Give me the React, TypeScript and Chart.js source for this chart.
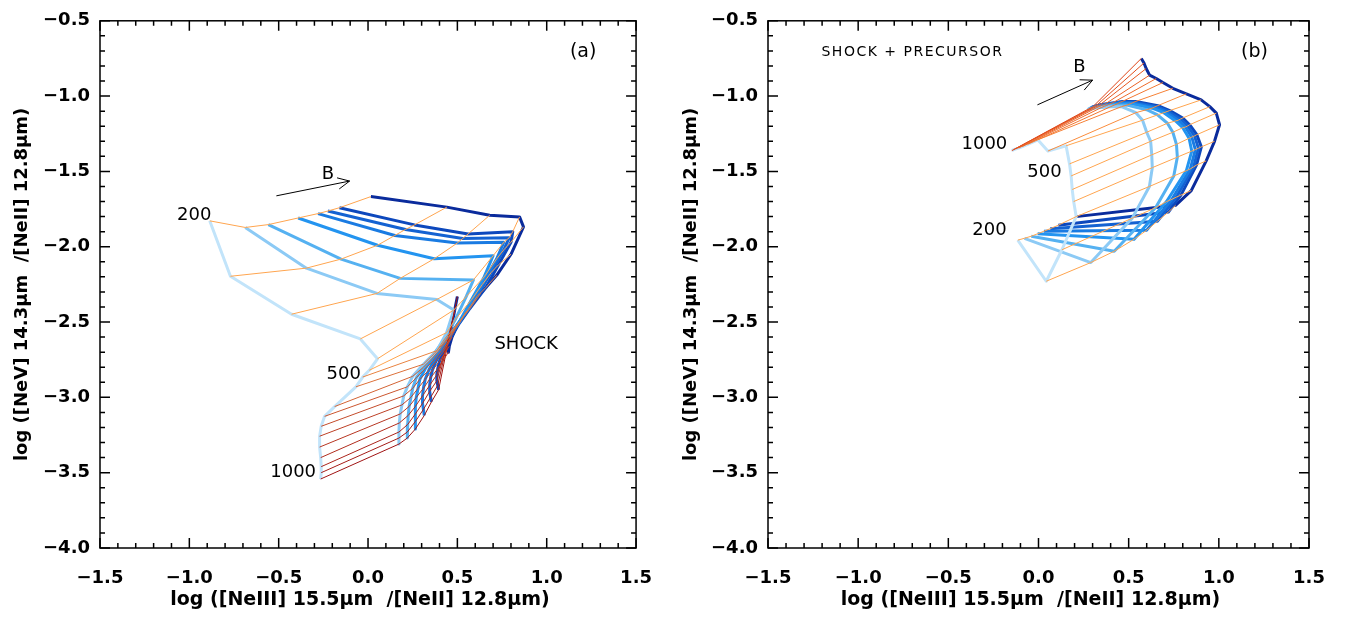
import React, { useEffect, useRef } from "react";
import { Chart, registerables } from "chart.js";

Chart.register(...registerables);

// ---------------- data ----------------
// shock velocities (km/s) of the orange/red grid lines
const VELOCITIES = [200, 250, 300, 350, 400, 450, 500, 550, 600, 650, 700, 750, 800, 850, 900, 950, 1000];
// magnetic parameters (light blue -> dark blue curves)
const MAG_PARAMS = [0.0001, 0.5, 1, 2, 3.23, 4, 5, 10];

const X_TICKS = [-1.5, -1.0, -0.5, 0.0, 0.5, 1.0, 1.5];
const Y_TICKS = [-4.0, -3.5, -3.0, -2.5, -2.0, -1.5, -1.0, -0.5];

const X_TITLE = "log ([NeIII] 15.5\u03bcm  /[NeII] 12.8\u03bcm)";
const Y_TITLE = "log ([NeV] 14.3\u03bcm  /[NeII] 12.8\u03bcm)";

// Panel (a) SHOCK : [log NeIII/NeII, log NeV/NeII] for each velocity
const SHOCK_B0 = [[-0.886,-1.828],[-0.770,-2.196],[-0.428,-2.448],[-0.043,-2.612],[0.053,-2.744],[0.007,-2.82],[-0.03,-2.865],[-0.068,-2.93],[-0.187,-3.061],[-0.243,-3.126],[-0.262,-3.192],[-0.271,-3.258],[-0.271,-3.33],[-0.265,-3.40],[-0.262,-3.46],[-0.262,-3.50],[-0.265,-3.542]];
const SHOCK_B1 = [[-0.687,-1.872],[-0.345,-2.142],[0.05,-2.31],[0.385,-2.35],[0.48,-2.42],[0.44,-2.57],[0.385,-2.69],[0.31,-2.78],[0.25,-2.86],[0.22,-2.93],[0.20,-2.99],[0.19,-3.05],[0.18,-3.11],[0.175,-3.17],[0.173,-3.23],[0.173,-3.27],[0.173,-3.31]];
const SHOCK_B2 = [[-0.558,-1.853],[-0.151,-2.082],[0.18,-2.21],[0.59,-2.22],[0.55,-2.33],[0.49,-2.48],[0.43,-2.61],[0.37,-2.71],[0.31,-2.80],[0.27,-2.87],[0.25,-2.94],[0.24,-3.0],[0.23,-3.06],[0.225,-3.12],[0.222,-3.18],[0.22,-3.23],[0.22,-3.27]];
const SHOCK_B3 = [[-0.391,-1.809],[0.053,-1.99],[0.37,-2.08],[0.70,-2.06],[0.65,-2.20],[0.58,-2.35],[0.51,-2.50],[0.43,-2.63],[0.36,-2.74],[0.32,-2.81],[0.29,-2.88],[0.28,-2.94],[0.27,-3.0],[0.265,-3.06],[0.265,-3.11],[0.265,-3.16],[0.265,-3.21]];
const SHOCK_B4 = [[-0.280,-1.780],[0.15,-1.925],[0.50,-1.975],[0.76,-1.97],[0.72,-2.08],[0.64,-2.25],[0.57,-2.40],[0.48,-2.55],[0.41,-2.67],[0.37,-2.75],[0.34,-2.82],[0.32,-2.88],[0.31,-2.94],[0.305,-2.99],[0.305,-3.04],[0.31,-3.08],[0.315,-3.12]];
const SHOCK_B5 = [[-0.225,-1.763],[0.21,-1.885],[0.53,-1.945],[0.79,-1.94],[0.76,-2.02],[0.69,-2.17],[0.61,-2.33],[0.53,-2.47],[0.46,-2.59],[0.42,-2.68],[0.38,-2.76],[0.36,-2.82],[0.35,-2.87],[0.345,-2.92],[0.345,-2.96],[0.35,-3.0],[0.355,-3.03]];
const SHOCK_B6 = [[-0.160,-1.741],[0.26,-1.855],[0.56,-1.915],[0.81,-1.90],[0.80,-1.97],[0.73,-2.12],[0.66,-2.27],[0.57,-2.41],[0.51,-2.51],[0.46,-2.61],[0.42,-2.70],[0.40,-2.76],[0.39,-2.81],[0.385,-2.85],[0.385,-2.89],[0.39,-2.92],[0.395,-2.95]];
const SHOCK_B7 = [[0.016,-1.667],[0.441,-1.737],[0.681,-1.791],[0.848,-1.802],[0.870,-1.868],[0.80,-2.05],[0.72,-2.19],[0.63,-2.31],[0.55,-2.43],[0.50,-2.52],[0.47,-2.60],[0.455,-2.66],[0.45,-2.70],[0.455,-2.62],[0.47,-2.52],[0.485,-2.42],[0.50,-2.33]];

// Panel (b) SHOCK + PRECURSOR
const PREC_B0 = [[-0.115,-1.956],[0.043,-2.229],[0.13,-2.02],[0.209,-1.80],[0.195,-1.70],[0.187,-1.62],[0.181,-1.53],[0.172,-1.45],[0.153,-1.33],[0.052,-1.365],[-0.004,-1.29],[-0.06,-1.32],[-0.09,-1.335],[-0.11,-1.345],[-0.125,-1.35],[-0.137,-1.355],[-0.148,-1.362]];
const PREC_B1 = [[-0.078,-1.944],[0.29,-2.105],[0.52,-1.81],[0.615,-1.60],[0.631,-1.475],[0.628,-1.39],[0.622,-1.30],[0.60,-1.24],[0.577,-1.16],[0.54,-1.11],[0.46,-1.07],[0.40,-1.07],[0.35,-1.075],[0.32,-1.078],[0.30,-1.082],[0.285,-1.086],[0.27,-1.09]];
const PREC_B2 = [[-0.04,-1.93],[0.42,-2.03],[0.65,-1.74],[0.75,-1.53],[0.77,-1.405],[0.765,-1.32],[0.745,-1.24],[0.715,-1.18],[0.66,-1.125],[0.60,-1.09],[0.49,-1.06],[0.42,-1.06],[0.365,-1.068],[0.33,-1.072],[0.308,-1.077],[0.291,-1.082],[0.275,-1.087]];
const PREC_B3 = [[-0.005,-1.914],[0.53,-1.95],[0.71,-1.70],[0.82,-1.495],[0.85,-1.365],[0.835,-1.28],[0.80,-1.21],[0.76,-1.165],[0.695,-1.11],[0.63,-1.08],[0.51,-1.05],[0.435,-1.052],[0.378,-1.062],[0.34,-1.067],[0.316,-1.072],[0.297,-1.078],[0.28,-1.083]];
const PREC_B4 = [[0.03,-1.897],[0.60,-1.89],[0.74,-1.685],[0.842,-1.483],[0.87,-1.355],[0.85,-1.272],[0.815,-1.205],[0.775,-1.16],[0.707,-1.105],[0.642,-1.073],[0.52,-1.045],[0.445,-1.046],[0.388,-1.056],[0.35,-1.062],[0.324,-1.068],[0.303,-1.074],[0.286,-1.08]];
const PREC_B5 = [[0.065,-1.88],[0.66,-1.83],[0.765,-1.67],[0.86,-1.47],[0.887,-1.346],[0.865,-1.264],[0.827,-1.198],[0.788,-1.152],[0.718,-1.10],[0.652,-1.068],[0.53,-1.04],[0.455,-1.04],[0.398,-1.05],[0.36,-1.057],[0.332,-1.063],[0.31,-1.07],[0.292,-1.076]];
const PREC_B6 = [[0.11,-1.857],[0.72,-1.77],[0.79,-1.657],[0.876,-1.458],[0.903,-1.337],[0.878,-1.256],[0.838,-1.19],[0.80,-1.145],[0.728,-1.096],[0.662,-1.063],[0.54,-1.035],[0.465,-1.035],[0.41,-1.045],[0.37,-1.052],[0.34,-1.058],[0.318,-1.065],[0.30,-1.072]];
const PREC_B7 = [[0.209,-1.80],[0.76,-1.725],[0.847,-1.627],[0.93,-1.43],[0.976,-1.30],[1.004,-1.19],[0.986,-1.113],[0.95,-1.07],[0.902,-1.025],[0.82,-0.985],[0.745,-0.948],[0.69,-0.91],[0.653,-0.883],[0.616,-0.861],[0.597,-0.817],[0.585,-0.78],[0.57,-0.75]];

const SHOCK_GRID = [SHOCK_B0, SHOCK_B1, SHOCK_B2, SHOCK_B3, SHOCK_B4, SHOCK_B5, SHOCK_B6, SHOCK_B7];
const PREC_GRID = [PREC_B0, PREC_B1, PREC_B2, PREC_B3, PREC_B4, PREC_B5, PREC_B6, PREC_B7];

// ---------------- styles ----------------
const BLUES = ["#c2e4fa", "#8ccaf5", "#55b1f1", "#2394f0", "#1a7be2", "#1462d2", "#0d48bd", "#0a2b9c"];
const FONT = '"DejaVu Sans", "Liberation Sans", sans-serif';

function mix(a: number[], b: number[], t: number) {
  const c = a.map((v, i) => Math.round(v + (b[i] - v) * t));
  return `rgb(${c[0]},${c[1]},${c[2]})`;
}
const LIGHT_ORANGE = [255, 165, 79];
const velColorA = (v: number) =>
  v <= 450 ? mix(LIGHT_ORANGE, LIGHT_ORANGE, 0) : mix(LIGHT_ORANGE, [160, 20, 20], Math.pow((v - 450) / 550, 0.6));
const velColorB = (v: number) =>
  v <= 600 ? mix(LIGHT_ORANGE, LIGHT_ORANGE, 0) : mix([250, 140, 60], [222, 66, 20], (v - 650) / 350);

const fmt = (v: number) => (v < -1e-9 ? "\u2212" : "") + Math.abs(v).toFixed(1);

type Txt = { text: string; x: number; y: number; font: string; spacing?: string };
type PanelCfg = {
  grid: number[][][];
  velColor: (v: number) => string;
  texts: Txt[];
  arrow: number[];
  leftW: number;
  padRight: number;
  yTitleX: number;
  width: number;
};

function gridDatasets(grid: number[][][], velColor: (v: number) => string) {
  const ds: any[] = [];
  grid.forEach((curve, bi) => {
    ds.push({
      label: "B=" + MAG_PARAMS[bi],
      data: curve.map(([x, y]) => ({ x, y })),
      borderColor: BLUES[bi],
      borderWidth: 3,
      showLine: true,
      pointRadius: 0,
      borderJoinStyle: "round",
      order: 2,
    });
  });
  VELOCITIES.forEach((v, vi) => {
    ds.push({
      label: v + " km/s",
      data: grid.map((curve) => ({ x: curve[vi][0], y: curve[vi][1] })),
      borderColor: velColor(v),
      borderWidth: 1,
      showLine: true,
      pointRadius: 0,
      order: 1,
    });
  });
  return ds;
}

function overlay(cfg: PanelCfg) {
  return {
    id: "overlay",
    afterDraw(chart: any) {
      const { ctx, chartArea: a } = chart;
      const xs = chart.scales.x;
      const ys = chart.scales.y;
      ctx.save();
      ctx.strokeStyle = "#000";
      ctx.fillStyle = "#000";
      ctx.lineWidth = 1.5;
      ctx.beginPath();
      const xn = Math.round((X_TICKS[X_TICKS.length - 1] - X_TICKS[0]) / 0.1);
      for (let i = 0; i <= xn; i++) {
        const px = xs.getPixelForValue(X_TICKS[0] + i * 0.1);
        const len = i % 5 === 0 ? 10 : 5;
        ctx.moveTo(px, a.bottom);
        ctx.lineTo(px, a.bottom - len);
        ctx.moveTo(px, a.top);
        ctx.lineTo(px, a.top + len);
      }
      const yn = Math.round((Y_TICKS[Y_TICKS.length - 1] - Y_TICKS[0]) / 0.1);
      for (let i = 0; i <= yn; i++) {
        const py = ys.getPixelForValue(Y_TICKS[0] + i * 0.1);
        const len = i % 5 === 0 ? 10 : 5;
        ctx.moveTo(a.left, py);
        ctx.lineTo(a.left + len, py);
        ctx.moveTo(a.right, py);
        ctx.lineTo(a.right - len, py);
      }
      ctx.stroke();
      ctx.strokeRect(a.left, a.top, a.right - a.left, a.bottom - a.top);

      // axis titles
      ctx.textAlign = "center";
      ctx.textBaseline = "middle";
      ctx.font = `bold 19px ${FONT}`;
      ctx.fillText(X_TITLE, (a.left + a.right) / 2 - 8, 600);
      ctx.font = `bold 18px ${FONT}`;
      ctx.save();
      ctx.translate(cfg.yTitleX, (a.top + a.bottom) / 2);
      ctx.rotate(-Math.PI / 2);
      ctx.fillText(Y_TITLE, 0, 0);
      ctx.restore();

      // annotations
      for (const t of cfg.texts) {
        ctx.font = t.font;
        (ctx as any).letterSpacing = t.spacing || "0px";
        ctx.fillText(t.text, xs.getPixelForValue(t.x), ys.getPixelForValue(t.y));
      }
      (ctx as any).letterSpacing = "0px";

      // B arrow
      const [ax1, ay1, ax2, ay2] = cfg.arrow;
      const x1 = xs.getPixelForValue(ax1), y1 = ys.getPixelForValue(ay1);
      const x2 = xs.getPixelForValue(ax2), y2 = ys.getPixelForValue(ay2);
      const ang = Math.atan2(y2 - y1, x2 - x1);
      ctx.lineWidth = 1;
      ctx.beginPath();
      ctx.moveTo(x1, y1);
      ctx.lineTo(x2, y2);
      ctx.moveTo(x2 - 13 * Math.cos(ang - 0.45), y2 - 13 * Math.sin(ang - 0.45));
      ctx.lineTo(x2, y2);
      ctx.lineTo(x2 - 13 * Math.cos(ang + 0.45), y2 - 13 * Math.sin(ang + 0.45));
      ctx.stroke();
      ctx.restore();
    },
  };
}

const tickFont = { family: FONT, size: 18, weight: "bold" as const };

function makeConfig(cfg: PanelCfg): any {
  return {
    type: "scatter",
    data: { datasets: gridDatasets(cfg.grid, cfg.velColor) },
    options: {
      animation: false,
      responsive: false,
      maintainAspectRatio: false,
      events: [],
      layout: { padding: { top: 15, right: cfg.padRight, left: 0, bottom: 0 } },
      plugins: { legend: { display: false }, tooltip: { enabled: false }, title: { display: false } },
      scales: {
        x: {
          type: "linear",
          min: X_TICKS[0],
          max: X_TICKS[X_TICKS.length - 1],
          afterBuildTicks: (s: any) => {
            s.ticks = X_TICKS.map((value) => ({ value }));
          },
          afterFit: (s: any) => {
            s.height = 70;
          },
          grid: { display: false, drawTicks: false },
          border: { display: false },
          ticks: {
            color: "#000",
            font: tickFont,
            padding: 20,
            autoSkip: false,
            maxRotation: 0,
            callback: (v: any) => fmt(Number(v)),
          },
        },
        y: {
          type: "linear",
          min: Y_TICKS[0],
          max: Y_TICKS[Y_TICKS.length - 1],
          afterBuildTicks: (s: any) => {
            s.ticks = Y_TICKS.map((value) => ({ value }));
          },
          afterFit: (s: any) => {
            s.width = cfg.leftW;
          },
          grid: { display: false, drawTicks: false },
          border: { display: false },
          ticks: {
            color: "#000",
            font: tickFont,
            padding: 10,
            autoSkip: false,
            callback: (v: any) => fmt(Number(v)),
          },
        },
      },
    },
    plugins: [overlay(cfg)],
  };
}

const PANEL_A: PanelCfg = {
  grid: SHOCK_GRID,
  velColor: velColorA,
  texts: [
    { text: "(a)", x: 1.204, y: -0.71, font: `19px ${FONT}` },
    { text: "SHOCK", x: 0.885, y: -2.647, font: `18px ${FONT}` },
    { text: "200", x: -0.973, y: -1.793, font: `18px ${FONT}` },
    { text: "500", x: -0.136, y: -2.844, font: `18px ${FONT}` },
    { text: "1000", x: -0.419, y: -3.5, font: `18px ${FONT}` },
    { text: "B", x: -0.225, y: -1.518, font: `18px ${FONT}` },
  ],
  arrow: [-0.513, -1.662, -0.103, -1.564],
  leftW: 100,
  padRight: 31,
  yTitleX: 22,
  width: 672,
};

const PANEL_B: PanelCfg = {
  grid: PREC_GRID,
  velColor: velColorB,
  texts: [
    { text: "(b)", x: 1.198, y: -0.71, font: `19px ${FONT}` },
    { text: "SHOCK + PRECURSOR", x: -0.699, y: -0.71, font: `14px ${FONT}`, spacing: "1.5px" },
    { text: "B", x: 0.227, y: -0.809, font: `18px ${FONT}` },
    { text: "1000", x: -0.3, y: -1.321, font: `18px ${FONT}` },
    { text: "500", x: 0.033, y: -1.505, font: `18px ${FONT}` },
    { text: "200", x: -0.272, y: -1.892, font: `18px ${FONT}` },
  ],
  arrow: [-0.006, -1.058, 0.3, -0.894],
  leftW: 96,
  padRight: 36,
  yTitleX: 19,
  width: 673,
};

function Panel({ cfg, left }: { cfg: PanelCfg; left: number }) {
  const ref = useRef<HTMLCanvasElement>(null);
  useEffect(() => {
    if (!ref.current) return;
    const chart = new Chart(ref.current, makeConfig(cfg));
    return () => chart.destroy();
  }, [cfg]);
  return (
    <canvas
      ref={ref}
      width={cfg.width}
      height={618}
      style={{ position: "absolute", left, top: 0, width: cfg.width, height: 618 }}
    />
  );
}

export default function App() {
  return (
    <div style={{ position: "fixed", left: 0, top: 0, width: 1345, height: 618, background: "#fff" }}>
      <Panel cfg={PANEL_A} left={0} />
      <Panel cfg={PANEL_B} left={672} />
    </div>
  );
}
